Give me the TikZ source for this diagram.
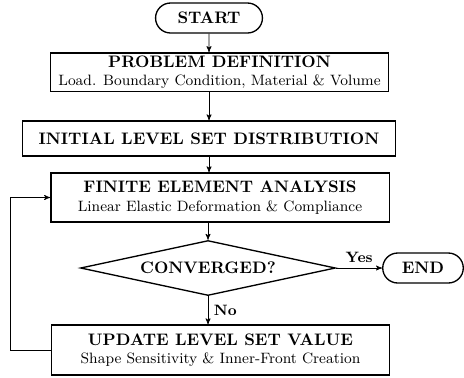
\documentclass[tikz,border=0pt]{standalone}
\usepackage{tikz}
\usetikzlibrary{arrows,shapes.geometric,shapes.misc}
\tikzstyle{arr}=[->,>=stealth']
\tikzstyle{blk}=[draw,thick,rectangle,align=center,inner sep=1pt]
\tikzstyle{term}=[draw,thick,rounded rectangle,font=\bfseries]
\tikzstyle{dec}=[draw,thick,diamond,aspect=4.64,inner sep=0pt,font=\bfseries]
\newcommand{\ttl}[1]{{\bfseries #1}}
\newcommand{\subtx}[1]{{\small #1}}

\begin{document}
\begin{tikzpicture}[x=0.6pt,y=-0.6pt]
\useasboundingbox (0,0) rectangle (464,377);
% terminals and blocks
\node[term,minimum width=70.8pt,minimum height=18pt] (st) at (209,18) {START};
\node[blk,minimum width=203pt,minimum height=23pt] (pd) at (219.5,72)
  {\ttl{PROBLEM DEFINITION}\\[-1pt]\subtx{Load. Boundary Condition, Material \& Volume}};
\node[blk,minimum width=224pt,minimum height=21pt] (ini) at (209,138.5)
  {\ttl{INITIAL LEVEL SET DISTRIBUTION}};
\node[blk,minimum width=203pt,minimum height=29.4pt] (fea) at (220,197.5)
  {\ttl{FINITE ELEMENT ANALYSIS}\\[-1pt]\subtx{Linear Elastic Deformation \& Compliance}};
\node[dec,minimum width=153pt,minimum height=33pt] (cv) at (208,268) {CONVERGED?};
\node[term,minimum width=55pt,minimum height=18pt] (end) at (423,268) {END};
\node[blk,minimum width=203pt,minimum height=30pt] (upd) at (220.5,350)
  {\ttl{UPDATE LEVEL SET VALUE}\\[-1pt]\subtx{Shape Sensitivity \& Inner-Front Creation}};
% connectors
\draw[arr] (st) -- (st |- pd.north);
\draw[arr] (st |- pd.south) -- (st |- ini.north);
\draw[arr] (st |- ini.south) -- (st |- fea.north);
\draw[arr] (cv.north |- fea.south) -- (cv.north);
\draw[arr] (cv.east) -- node[above,font=\bfseries\small]{Yes} (end.west);
\draw[arr] (cv.south) -- node[right,font=\bfseries\small]{No} (cv.south |- upd.north);
\draw[arr] (upd.west) -- ++(-40,0) |- (fea.west);
\end{tikzpicture}
\end{document}
